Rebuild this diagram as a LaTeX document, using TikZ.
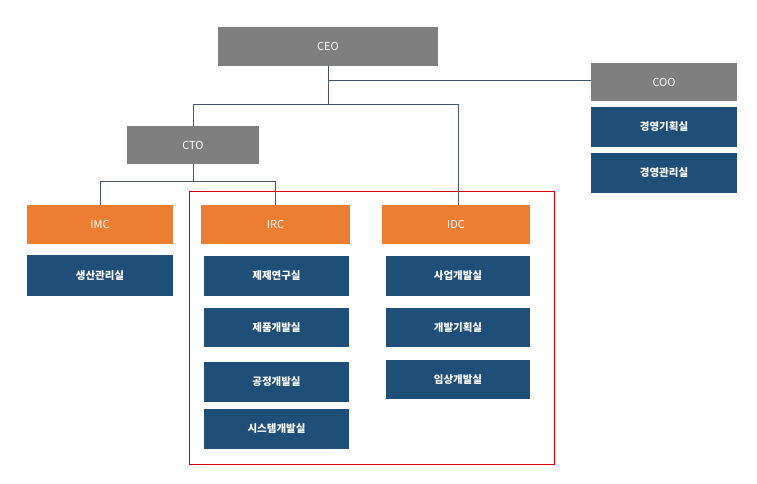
\documentclass[tikz,border=0pt]{standalone}
\usepackage{fontspec}
\setmainfont{Noto Sans CJK KR}
\usetikzlibrary{positioning}
\definecolor{boxgray}{HTML}{7F7F7F}
\definecolor{boxnavy}{HTML}{1F4E79}
\definecolor{boxorange}{HTML}{ED7D31}
\definecolor{linkgray}{HTML}{44546A}
\tikzset{
  box/.style={draw=none, text=white, inner sep=0pt, font=\fontsize{11}{13}\selectfont},
  head/.style={box, fill=boxgray, minimum height=39pt},
  unit/.style={box, fill=boxorange, minimum width=148pt, minimum height=39pt},
  room/.style={box, fill=boxnavy, minimum width=145pt, minimum height=40pt, font=\fontsize{10.5}{13}\selectfont\bfseries},
  link/.style={draw=linkgray, line width=0.9pt},
}
\begin{document}
\begin{tikzpicture}[x=1pt,y=-1pt]
\useasboundingbox (0,0) rectangle (757,483);

% --- top level ---
\node[head, minimum width=220pt] (ceo) at (328,46.5) {CEO};
\node[head, minimum width=146pt, minimum height=38pt] (coo) at (664,82) {COO};
\node[room, minimum width=146pt] (plan) at (664,127) {경영기획실};
\node[room, minimum width=146pt] (mgmt) at (664,173) {경영관리실};
\node[head, minimum width=132pt, minimum height=38pt] (cto) at (193,145) {CTO};

% --- units ---
\node[unit, minimum width=146pt] (imc) at (100,224.5) {IMC};
\node[room, minimum width=146pt, minimum height=41pt] (prod) at (100,275.5) {생산관리실};
\node[unit, minimum width=149pt] (irc) at (275.5,224.5) {IRC};
\node[room] (form) at (276.5,276) {제제연구실};
\node[room, minimum height=39pt] (dev) at (276.5,327.5) {제품개발실};
\node[room] (proc) at (276.5,382) {공정개발실};
\node[room] (sys) at (276.5,429) {시스템개발실};
\node[unit] (idc) at (456,224.5) {IDC};
\node[room, minimum width=144pt] (biz) at (458,276) {사업개발실};
\node[room, minimum width=144pt, minimum height=39pt] (devp) at (458,327.5) {개발기획실};
\node[room, minimum width=144pt, minimum height=39pt] (clin) at (458,379.5) {임상개발실};

% --- research frame ---
\draw[red!85!black, line width=1pt] (189,191) rectangle (554,464);

% --- connectors ---
\coordinate (ceoj) at (328,104);
\coordinate (ctoj) at (193,181);
\draw[link] (ceo.south) -- (ceoj);
\draw[link] (ceo.south |- 0,80) -- (coo.west |- 0,80);
\draw[link] (ceoj) -| (cto.north);
\draw[link] (ceoj) -| (idc.north -| 458,0);
\draw[link] (cto.south) -- (ctoj);
\draw[link] (ctoj) -| (imc.north);
\draw[link] (ctoj) -| (irc.north);
\end{tikzpicture}
\end{document}
